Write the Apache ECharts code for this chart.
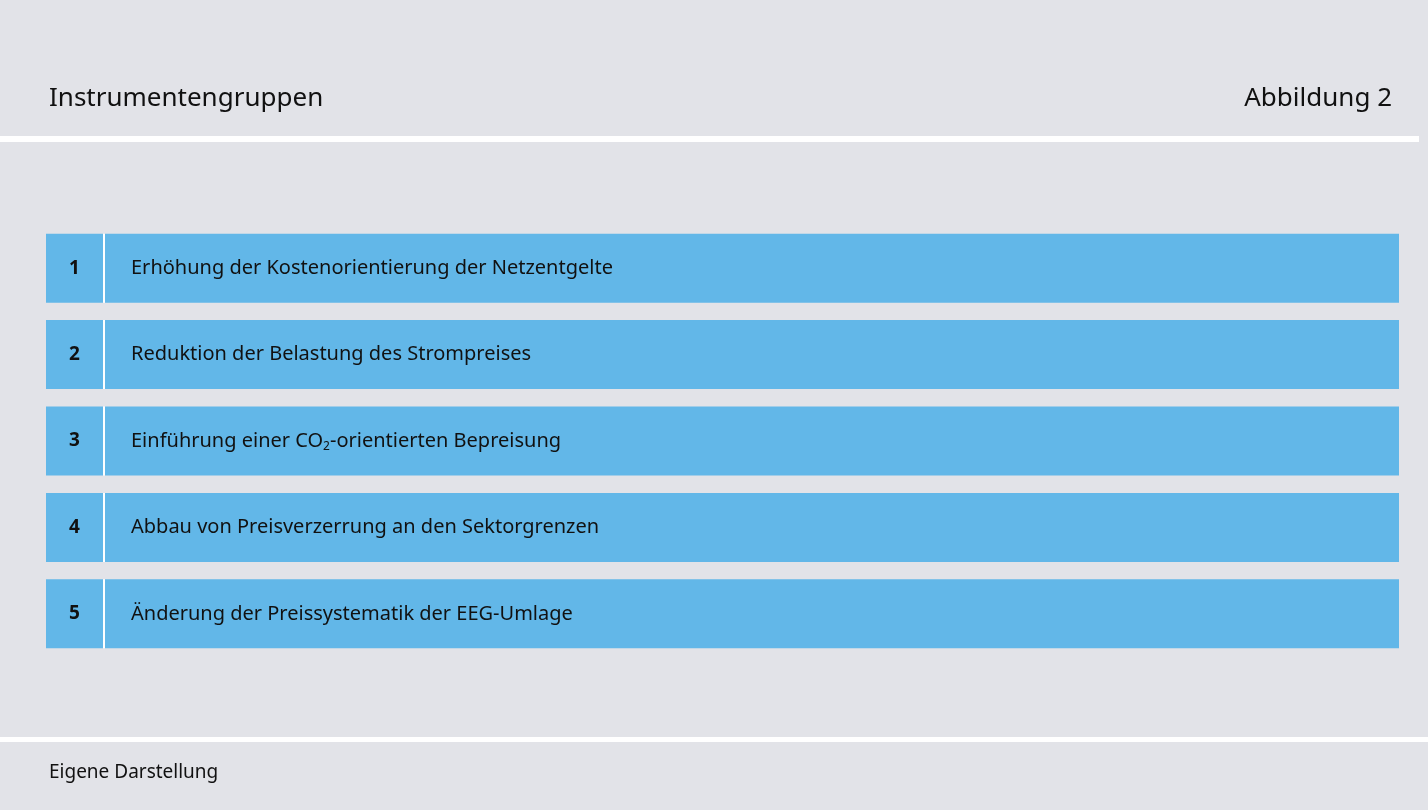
<!DOCTYPE html><html><head><meta charset="utf-8"><script src="https://cdn.jsdelivr.net/npm/echarts@6/dist/echarts.min.js"></script>
<style>html,body{margin:0;padding:0;background:#e2e3e8}#c{width:1428px;height:810px}</style></head><body><div id="c"></div><script>
const categories=['1','2','3','4','5'];
const labels=['Erhöhung der Kostenorientierung der Netzentgelte','Reduktion der Belastung des Strompreises','Einführung einer CO{s|2}-orientierten Bepreisung','Abbau von Preisverzerrung an den Sektorgrenzen','Änderung der Preissystematik der EEG-Umlage'];
const numCell=[57,57,57,57,57];
const gapCell=[2,2,2,2,2];
const textCell=[1294,1294,1294,1294,1294];
const chart=echarts.init(document.getElementById('c'));
const font='"Noto Sans", sans-serif';
chart.setOption({
backgroundColor:'#e2e3e8',
animation:false,
graphic:[
{type:'rect',shape:{x:0,y:136,width:1419,height:6},style:{fill:'#fff'}},
{type:'rect',shape:{x:0,y:737,width:1428,height:5},style:{fill:'#fff'}},
{type:'text',left:49,top:86,style:{text:'Instrumentengruppen',font:'26px '+font,fill:'#111'}},
{type:'text',right:36,top:86,style:{text:'Abbildung 2',font:'26px '+font,fill:'#111'}},
{type:'text',left:49,top:763,style:{text:'Eigene Darstellung',font:'19px '+font,fill:'#111'}}
],
grid:{left:46,width:1353,top:225,height:432},
xAxis:{type:'value',min:0,max:1353,show:false},
yAxis:{type:'category',data:categories,inverse:true,show:false},
series:[
{type:'bar',stack:'a',data:numCell,barWidth:69,itemStyle:{color:'#62b7e8'},
 label:{show:true,position:'inside',formatter:p=>p.name,fontFamily:font,fontWeight:'bold',fontSize:19,color:'#111'}},
{type:'bar',stack:'a',data:gapCell,barWidth:69,itemStyle:{color:'#ffffff'}},
{type:'bar',stack:'a',data:textCell,barWidth:69,itemStyle:{color:'#62b7e8'},
 label:{show:true,position:'insideLeft',distance:26,formatter:p=>labels[p.dataIndex],fontFamily:font,fontSize:20,color:'#111',
 rich:{s:{fontSize:12,fontFamily:font,color:'#111',padding:[12,0,0,0]}}}}
]});
</script></body></html>
